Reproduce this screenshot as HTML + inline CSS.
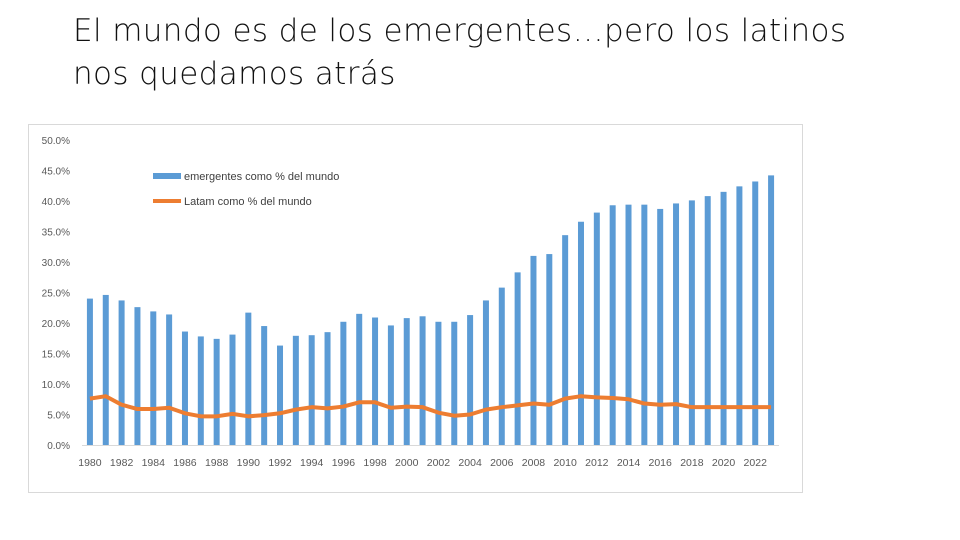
<!DOCTYPE html>
<html><head><meta charset="utf-8"><style>
body{margin:0;width:960px;height:540px;background:#fff;font-family:"Liberation Sans",sans-serif;overflow:hidden;position:relative}
.title{position:absolute;left:73px;top:10px;font-family:"DejaVu Sans","Liberation Sans",sans-serif;font-weight:300;font-size:31px;line-height:43px;color:#111;letter-spacing:0.38px}
svg{position:absolute;left:0;top:0}
</style></head><body>
<div class="title">El mundo es de los emergentes…pero los latinos<br>nos quedamos atrás</div>
<svg width="960" height="540">
<rect x="28.5" y="124.5" width="774" height="368" fill="#fff" stroke="#d9d9d9"/>
<g id="grid"></g><g id="bars"></g><g id="line"></g><g id="xl"></g>
<g>
<rect x="153" y="173" width="28" height="6" fill="#5b9bd5"/>
<text x="184" y="180" font-size="11" fill="#404040">emergentes como % del mundo</text>
<line x1="153" y1="201" x2="181" y2="201" stroke="#ed7d31" stroke-width="4"/>
<text x="184" y="205" font-size="11" fill="#404040">Latam como % del mundo</text>
</g>
</svg>
<script>
const years=[];for(let y=1980;y<=2023;y++)years.push(y);
const emergentes=[24.0,24.6,23.7,22.6,21.9,21.4,18.6,17.8,17.4,18.1,21.7,19.5,16.3,17.9,18.0,18.5,20.2,21.5,20.9,19.6,20.8,21.1,20.2,20.2,21.3,23.7,25.8,28.3,31.0,31.3,34.4,36.6,38.1,39.3,39.4,39.4,38.7,39.6,40.1,40.8,41.5,42.4,43.2,44.2];
const latam=[7.6,8.0,6.6,5.9,5.9,6.1,5.2,4.7,4.7,5.1,4.7,4.9,5.2,5.8,6.2,6.0,6.3,7.0,7.0,6.1,6.3,6.2,5.3,4.8,5.0,5.8,6.2,6.5,6.8,6.6,7.6,8.0,7.8,7.7,7.5,6.8,6.6,6.7,6.2,6.2,6.2,6.2,6.2,6.2];
const yTicks=[0,5,10,15,20,25,30,35,40,45,50];
const NS="http://www.w3.org/2000/svg";
const y0=445,y50=140,xl=82,xr=779;
const ys=v=>y0-(v/50)*(y0-y50);
const step=(xr-xl)/years.length;
const xs=i=>xl+step*(i+0.5);
function mk(t,a,p){const e=document.createElementNS(NS,t);for(const k in a)e.setAttribute(k,a[k]);p.appendChild(e);return e;}
const g=document.getElementById('grid');
yTicks.forEach(v=>{const t=mk('text',{x:70,y:ys(v)+4,'text-anchor':'end','font-size':10,fill:'#595959'},g);t.textContent=v.toFixed(1)+'%';

});
const ax=mk('line',{x1:xl,x2:xr,y1:y0+0.5,y2:y0+0.5,stroke:'#d9d9d9'},g);


const b=document.getElementById('bars');
emergentes.forEach((v,i)=>{const r=mk('rect',{x:xs(i)-3,y:ys(v),width:6,height:y0-ys(v),fill:'#5b9bd5'},b);

});
const p=mk('polyline',{points:latam.map((v,i)=>xs(i)+','+ys(v)).join(' '),fill:'none',stroke:'#ed7d31','stroke-width':4,'stroke-linejoin':'round'},document.getElementById('line'));


const x=document.getElementById('xl');
years.forEach((y,i)=>{if(i%2)return;const t=mk('text',{x:xs(i),y:466,'text-anchor':'middle','font-size':10.5,fill:'#595959'},x);t.textContent=y;

});
</script>
</body></html>
